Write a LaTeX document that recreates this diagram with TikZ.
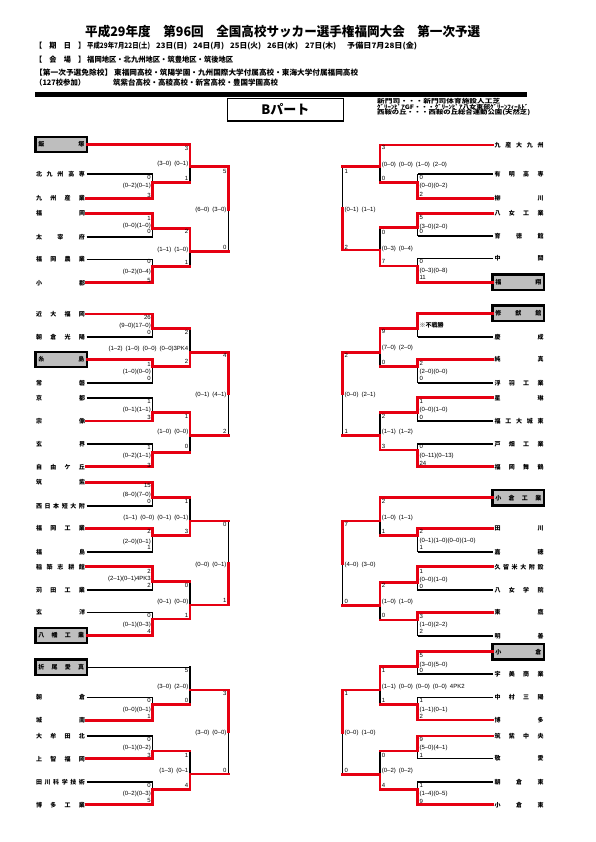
\documentclass[tikz,border=0pt]{standalone}
\usepackage{fontspec}
\usepackage{graphicx}
\setmainfont{Noto Sans CJK JP}
\newfontfamily\lat{Liberation Sans}
\definecolor{redline}{RGB}{230,0,18}
\definecolor{seedgray}{RGB}{190,190,190}
\pgfdeclarelayer{bgw}
\pgfdeclarelayer{blk}
\pgfsetlayers{bgw,blk,main}
\newcounter{lb}
\newcommand{\nt}[1]{\makebox[49pt][s]{#1}}
\newcommand{\nb}[1]{\makebox[46pt][s]{#1}}
\newcommand{\match}[7]{%
  \if t#6
    \begin{pgfonlayer}{blk}\draw[#7] (#1,#5) -- (#1,#4);\end{pgfonlayer}
    \draw[rd] (#1,#3) -- (#1,#5) -- (#2,#5);
  \else
    \begin{pgfonlayer}{blk}\draw[#7] (#1,#3) -- (#1,#5);\end{pgfonlayer}
    \draw[rd] (#1,#4) -- (#1,#5) -- (#2,#5);
  \fi}
\newcommand{\fin}[5]{%
  \if t#5
    \begin{pgfonlayer}{blk}\draw[bk] (#1,#4) -- (#1,#3);\end{pgfonlayer}
    \draw[rd] (#1,#2) -- (#1,#4);
  \else
    \begin{pgfonlayer}{blk}\draw[bk] (#1,#2) -- (#1,#4);\end{pgfonlayer}
    \draw[rd] (#1,#3) -- (#1,#4);
  \fi}
\newcommand{\bn}[3]{\begin{pgfonlayer}{blk}\draw[bkn] (#1) -- (#2,#3);\end{pgfonlayer}}
\newcommand{\rn}[3]{\draw[rd] (#1) -- (#2,#3);}
\newcommand{\labL}[3]{\stepcounter{lb}\node[scl] (lb\arabic{lb}) at (#1,#2) {#3};}
\newcommand{\labR}[3]{\stepcounter{lb}\node[scr] (lb\arabic{lb}) at (#1,#2) {#3};}
\newcommand{\fitw}[2]{\resizebox{#1}{\height}{#2}}
\tikzset{
  bk/.style={black, line width=1.1pt, line cap=rect},
  bkt/.style={black, line width=2pt, line cap=rect},
  bkn/.style={black, line width=1.6pt},
  rd/.style={redline, line width=2.8pt, line cap=rect},
  nmL/.style={inner xsep=1.5pt, inner ysep=0pt, outer sep=0pt, text height=4.6pt, text depth=0pt, font=\bfseries\fontsize{6}{6}\selectfont},
  nmB/.style={nmL, draw, fill=seedgray, line width=2.2pt, minimum width=51.5pt, minimum height=15.5pt, inner xsep=0pt},
  scl/.style={anchor=east, inner sep=0pt, text height=4.3pt, text depth=0pt, font={\lat\fontsize{6}{6}\selectfont\spaceskip=0.5em\relax}},
  scr/.style={scl, anchor=west},
  hd/.style={anchor=west, inner sep=0pt, text height=5.7pt, text depth=0pt, font=\bfseries\fontsize{7.5}{7.5}\selectfont},
  vn/.style={anchor=west, inner sep=0pt, text height=4.6pt, text depth=0pt, font=\bfseries\fontsize{6}{6}\selectfont}
}
\begin{document}
\begin{tikzpicture}[x=1pt,y=-1pt]
\begin{pgfonlayer}{bgw}\fill[white] (0,0) rectangle (595,842);\end{pgfonlayer}
\useasboundingbox (0,0) rectangle (595,842);

% ---------- header ----------
\node[anchor=west, inner sep=0pt, text height=9.8pt, text depth=0pt] (title) at (85,31.5)
  {\fitw{395pt}{\bfseries\fontsize{13}{13}\selectfont 平成29年度　第96回　全国高校サッカー選手権福岡大会　第一次予選}};
\node[hd] (h1) at (35,46) {\fitw{50pt}{【　期　日　】}};
\node[hd] (h2) at (87,46) {\fitw{63pt}{平成29年7月22日(土)}};
\node[hd] (h3) at (156,46) {\fitw{31pt}{23日(日)}};
\node[hd] (h4) at (193,46) {\fitw{31pt}{24日(月)}};
\node[hd] (h5) at (230,46) {\fitw{31pt}{25日(火)}};
\node[hd] (h6) at (267,46) {\fitw{31pt}{26日(水)}};
\node[hd] (h7) at (305,46) {\fitw{31pt}{27日(木)}};
\node[hd] (h8) at (347,46) {\fitw{70pt}{予備日7月28日(金)}};
\node[hd] (h9) at (35,60) {\fitw{50pt}{【　会　場　】}};
\node[hd] (h10) at (87,60) {\fitw{146pt}{福岡地区・北九州地区・筑豊地区・筑後地区}};
\node[hd] (h11) at (35,73) {\fitw{77pt}{【第一次予選免除校】}};
\node[hd] (h12) at (114,73) {\fitw{244pt}{東福岡高校・筑陽学園・九州国際大学付属高校・東海大学付属福岡高校}};
\node[hd] (h13) at (35,83) {\fitw{50pt}{（127校参加）}};
\node[hd] (h14) at (113,83) {\fitw{165pt}{筑紫台高校・高稜高校・新宮高校・豊国学園高校}};
\draw[line width=4.3pt] (35,94.5) -- (527,94.5);
\node[draw, line width=1.5pt, minimum width=116pt, minimum height=22.7pt, inner sep=0pt, text height=9.4pt, text depth=0pt,
  font=\bfseries\fontsize{13}{13}\selectfont] (bpart) at (285.3,109.7) {Bパート};
\node[vn] (v1) at (377,101) {\fitw{123pt}{新門司・・・新門司体育施設人工芝}};
\node[vn] (v2) at (377,106.8) {\fitw{151pt}{ｸﾞﾘｰﾝﾋﾟｱGF・・・ｸﾞﾘｰﾝﾋﾟｱ八女東部ｸﾞﾘｰﾝﾌｨｰﾙﾄﾞ}};
\node[vn] (v3) at (377,112.5) {\fitw{153pt}{西鞍の丘・・・西鞍の丘総合運動公園(天然芝)}};

% ---------- left names ----------
\node[nmB] (L1) at (61.25,144.5) {\nb{飯 塚}};
\node[nmL] (L2) at (60.5,174.3) {\nt{北 九 州 高 専}};
\node[nmL] (L3) at (60.5,198.3) {\nt{九 州 産 業}};
\node[nmL] (L4) at (60.5,213.3) {\nt{福 岡}};
\node[nmL] (L5) at (60.5,236.7) {\nt{太 宰 府}};
\node[nmL] (L6) at (60.5,259.3) {\nt{福 岡 農 業}};
\node[nmL] (L7) at (60.5,282.7) {\nt{小 郡}};
\node[nmL] (L8) at (60.5,314) {\nt{近 大 福 岡}};
\node[nmL] (L9) at (60.5,336.7) {\nt{朝 倉 光 陽}};
\node[nmB] (L10) at (61.25,359.5) {\nb{糸 島}};
\node[nmL] (L11) at (60.5,382.7) {\nt{常 磐}};
\node[nmL] (L12) at (60.5,397.7) {\nt{京 都}};
\node[nmL] (L13) at (60.5,421) {\nt{宗 像}};
\node[nmL] (L14) at (60.5,444) {\nt{玄 界}};
\node[nmL] (L15) at (60.5,466.7) {\nt{自 由 ケ 丘}};
\node[nmL] (L16) at (60.5,482.3) {\nt{筑 紫}};
\node[nmL] (L17) at (60.5,505.7) {\nt{西 日 本 短 大 附}};
\node[nmL] (L18) at (60.5,528.3) {\nt{福 岡 工 業}};
\node[nmL] (L19) at (60.5,551.7) {\nt{福 島}};
\node[nmL] (L20) at (60.5,566.7) {\nt{稲 築 志 耕 館}};
\node[nmL] (L21) at (60.5,590) {\nt{苅 田 工 業}};
\node[nmL] (L22) at (60.5,612.3) {\nt{玄 洋}};
\node[nmB] (L23) at (61.25,635.5) {\nb{八 幡 工 業}};
\node[nmB] (L24) at (61.25,667.3) {\nb{折 尾 愛 真}};
\node[nmL] (L25) at (60.5,697.3) {\nt{朝 倉}};
\node[nmL] (L26) at (60.5,720.3) {\nt{城 南}};
\node[nmL] (L27) at (60.5,736) {\nt{大 牟 田 北}};
\node[nmL] (L28) at (60.5,758.7) {\nt{上 智 福 岡}};
\node[nmL] (L29) at (60.5,781.7) {\nt{田 川 科 学 技 術}};
\node[nmL] (L30) at (60.5,804.7) {\nt{博 多 工 業}};

% ---------- right names ----------
\node[nmL] (R1n) at (519,145) {\nt{九 産 大 九 州}};
\node[nmL] (R2n) at (519,174.3) {\nt{有 明 高 専}};
\node[nmL] (R3n) at (519,198.3) {\nt{柳 川}};
\node[nmL] (R4n) at (519,213.3) {\nt{八 女 工 業}};
\node[nmL] (R5n) at (519,235.7) {\nt{育 徳 館}};
\node[nmL] (R6n) at (519,258.3) {\nt{中 間}};
\node[nmB] (R7n) at (518.25,282.3) {\nb{福 翔}};
\node[nmB] (R8n) at (518.25,313.3) {\nb{修 猷 館}};
\node[nmL] (R9n) at (519,336.7) {\nt{慶 成}};
\node[nmL] (R10n) at (519,359.3) {\nt{純 真}};
\node[nmL] (R11n) at (519,382.7) {\nt{浮 羽 工 業}};
\node[nmL] (R12n) at (519,397.7) {\nt{星 琳}};
\node[nmL] (R13n) at (519,421) {\nt{福 工 大 城 東}};
\node[nmL] (R14n) at (519,444) {\nt{戸 畑 工 業}};
\node[nmL] (R15n) at (519,466.7) {\nt{福 岡 舞 鶴}};
\node[nmB] (R16n) at (518.25,497.7) {\nb{小 倉 工 業}};
\node[nmL] (R17n) at (519,528.3) {\nt{田 川}};
\node[nmL] (R18n) at (519,551.7) {\nt{嘉 穂}};
\node[nmL] (R19n) at (519,566.7) {\nt{久 留 米 大 附 設}};
\node[nmL] (R20n) at (519,590) {\nt{八 女 学 院}};
\node[nmL] (R21n) at (519,612.3) {\nt{東 鷹}};
\node[nmL] (R22n) at (519,635.7) {\nt{明 善}};
\node[nmB] (R23n) at (518.25,651.7) {\nb{小 倉}};
\node[nmL] (R24n) at (519,674) {\nt{宇 美 商 業}};
\node[nmL] (R25n) at (519,697.3) {\nt{中 村 三 陽}};
\node[nmL] (R26n) at (519,720) {\nt{博 多}};
\node[nmL] (R27n) at (519,736) {\nt{筑 紫 中 央}};
\node[nmL] (R28n) at (519,758.3) {\nt{敬 愛}};
\node[nmL] (R29n) at (519,781.7) {\nt{朝 倉 東}};
\node[nmL] (R30n) at (519,804.7) {\nt{小 倉 東}};

% ---------- left brackets ----------
\rn{L1.east}{190}{144.5}
\bn{L2.east}{152.5}{174.3} \rn{L3.east}{152.5}{198.3}
\rn{L4.east}{152.5}{213.3} \bn{L5.east}{152.5}{236.7}
\bn{L6.east}{152.5}{259.3} \rn{L7.east}{152.5}{282.7}
\match{152.5}{190}{174.3}{198.3}{182.7}{b}{bk}
\match{152.5}{190}{213.3}{236.7}{228.3}{t}{bk}
\match{152.5}{190}{259.3}{282.7}{266.7}{b}{bk}
\match{190}{228.3}{144.5}{182.7}{166.7}{t}{bkt}
\match{190}{228.3}{228.3}{266.7}{251.7}{t}{bkt}
\fin{228.3}{166.7}{251.7}{209.2}{t}

\rn{L8.east}{152.5}{314} \bn{L9.east}{152.5}{336.7}
\rn{L10.east}{152.5}{359.5} \bn{L11.east}{152.5}{382.7}
\bn{L12.east}{152.5}{397.7} \rn{L13.east}{152.5}{421}
\bn{L14.east}{152.5}{444} \rn{L15.east}{152.5}{466.7}
\match{152.5}{190}{314}{336.7}{328.3}{t}{bk}
\match{152.5}{190}{359.5}{382.7}{366.7}{t}{bk}
\match{152.5}{190}{397.7}{421}{412.3}{b}{bk}
\match{152.5}{190}{444}{466.7}{452.3}{b}{bk}
\match{190}{228.3}{328.3}{366.7}{352.3}{b}{bkt}
\match{190}{228.3}{412.3}{452.3}{435.7}{t}{bkt}
\fin{228.3}{352.3}{435.7}{394}{t}

\rn{L16.east}{152.5}{482.3} \bn{L17.east}{152.5}{505.7}
\rn{L18.east}{152.5}{528.3} \bn{L19.east}{152.5}{551.7}
\rn{L20.east}{152.5}{566.7} \bn{L21.east}{152.5}{590}
\bn{L22.east}{152.5}{612.3} \rn{L23.east}{152.5}{635.5}
\match{152.5}{190}{482.3}{505.7}{497.7}{t}{bk}
\match{152.5}{190}{528.3}{551.7}{535.7}{t}{bk}
\match{152.5}{190}{566.7}{590}{581.7}{t}{bk}
\match{152.5}{190}{612.3}{635.5}{619}{b}{bk}
\match{190}{228.3}{497.7}{535.7}{521}{b}{bkt}
\match{190}{228.3}{581.7}{619}{605}{b}{bkt}
\fin{228.3}{521}{605}{563}{b}

\bn{L24.east}{190}{667.3}
\bn{L25.east}{152.5}{697.3} \rn{L26.east}{152.5}{720.3}
\bn{L27.east}{152.5}{736} \rn{L28.east}{152.5}{758.7}
\bn{L29.east}{152.5}{781.7} \rn{L30.east}{152.5}{804.7}
\match{152.5}{190}{697.3}{720.3}{704.3}{b}{bk}
\match{152.5}{190}{736}{758.7}{751}{b}{bk}
\match{152.5}{190}{781.7}{804.7}{789.3}{b}{bk}
\begin{pgfonlayer}{blk}\draw[bkt] (190,667.3) -- (190,704.3);\end{pgfonlayer}
\draw[rd] (190,690) -- (228.3,690);
\match{190}{228.3}{751}{789.3}{774}{b}{bkt}
\fin{228.3}{690}{774}{732}{t}

% ---------- right brackets ----------
\rn{R1n.west}{380}{145}
\bn{R2n.west}{417.7}{174.3} \rn{R3n.west}{417.7}{198.3}
\rn{R4n.west}{417.7}{213.3} \bn{R5n.west}{417.7}{235.7}
\bn{R6n.west}{417.7}{258.3} \rn{R7n.west}{417.7}{282.3}
\match{417.7}{380}{174.3}{198.3}{182.7}{b}{bk}
\match{417.7}{380}{213.3}{235.7}{227.7}{t}{bk}
\match{417.7}{380}{258.3}{282.3}{266}{b}{bk}
\match{380}{342.7}{145}{182.7}{166.7}{t}{bkt}
\match{380}{342.7}{227.7}{266}{250}{b}{bkt}
\fin{342.7}{166.7}{250}{208.4}{b}

\rn{R8n.west}{417.7}{313.3} \bn{R9n.west}{417.7}{336.7}
\rn{R10n.west}{417.7}{359.3} \bn{R11n.west}{417.7}{382.7}
\rn{R12n.west}{417.7}{397.7} \bn{R13n.west}{417.7}{421}
\bn{R14n.west}{417.7}{444} \rn{R15n.west}{417.7}{466.7}
\match{417.7}{380}{313.3}{336.7}{328.3}{t}{bk}
\match{417.7}{380}{359.3}{382.7}{366.7}{t}{bk}
\match{417.7}{380}{397.7}{421}{412.3}{t}{bk}
\match{417.7}{380}{444}{466.7}{450}{b}{bk}
\match{380}{342.7}{328.3}{366.7}{352.3}{t}{bkt}
\match{380}{342.7}{412.3}{450}{435.7}{b}{bkt}
\fin{342.7}{352.3}{435.7}{394}{t}

\rn{R16n.west}{380}{497.7}
\rn{R17n.west}{417.7}{528.3} \bn{R18n.west}{417.7}{551.7}
\rn{R19n.west}{417.7}{566.7} \bn{R20n.west}{417.7}{590}
\rn{R21n.west}{417.7}{612.3} \bn{R22n.west}{417.7}{635.7}
\match{417.7}{380}{528.3}{551.7}{535.7}{t}{bk}
\match{417.7}{380}{566.7}{590}{582.3}{t}{bk}
\match{417.7}{380}{612.3}{635.7}{620}{t}{bk}
\match{380}{342.7}{497.7}{535.7}{521}{t}{bkt}
\match{380}{342.7}{582.3}{620}{605.7}{t}{bkt}
\fin{342.7}{521}{605.7}{563.4}{t}

\rn{R23n.west}{417.7}{651.7} \bn{R24n.west}{417.7}{674}
\bn{R25n.west}{417.7}{697.3} \rn{R26n.west}{417.7}{720}
\rn{R27n.west}{417.7}{736} \bn{R28n.west}{417.7}{758.3}
\bn{R29n.west}{417.7}{781.7} \rn{R30n.west}{417.7}{804.7}
\match{417.7}{380}{651.7}{674}{666.7}{t}{bk}
\match{417.7}{380}{697.3}{720}{704.3}{b}{bk}
\match{417.7}{380}{736}{758.3}{751}{t}{bk}
\match{417.7}{380}{781.7}{804.7}{789.3}{b}{bk}
\match{380}{342.7}{666.7}{704.3}{690}{t}{bkt}
\match{380}{342.7}{751}{789.3}{774.3}{b}{bkt}
\fin{342.7}{690}{774.3}{732.2}{t}

% ---------- left scores ----------
\labL{151}{177.7}{0} \labL{151}{185.7}{(0–2)(0–1)} \labL{151}{195}{3}
\labL{151}{218.3}{1} \labL{151}{225}{(0–0)(1–0)} \labL{151}{231.7}{0}
\labL{151}{261.7}{0} \labL{151}{271}{(0–2)(0–4)} \labL{151}{280}{5}
\labL{188.5}{148.3}{3} \labL{188.5}{163.3}{(3–0) (0–1)} \labL{188.5}{178.3}{1}
\labL{188.5}{231.7}{2} \labL{188.5}{249}{(1–1) (1–0)} \labL{188.5}{262.7}{1}
\labL{226.7}{171}{5} \labL{226.7}{209.3}{(6–0) (3–0)} \labL{226.7}{247.7}{0}

\labL{151}{317.3}{26} \labL{151}{325.7}{(9–0)(17–0)} \labL{151}{332.7}{0}
\labL{151}{364.3}{1} \labL{151}{371.7}{(1–0)(0–0)} \labL{151}{378.3}{0}
\labL{151}{401.7}{1} \labL{151}{409.3}{(0–1)(1–1)} \labL{151}{417.3}{3}
\labL{151}{447.3}{1} \labL{151}{455.7}{(0–2)(1–1)} \labL{151}{465}{3}
\labL{188.5}{332.3}{2} \labL{188.5}{348.3}{(1–2) (1–0) (0–0) (0–0)3PK4} \labL{188.5}{361.7}{2}
\labL{188.5}{416.7}{1} \labL{188.5}{431.7}{(1–0) (0–0)} \labL{188.5}{446.7}{0}
\labL{226.7}{355}{4} \labL{226.7}{394.3}{(0–1) (4–1)} \labL{226.7}{431.7}{2}

\labL{151}{485.7}{15} \labL{151}{494.3}{(8–0)(7–0)} \labL{151}{501.7}{0}
\labL{151}{531.7}{2} \labL{151}{541}{(2–0)(0–1)} \labL{151}{547.7}{1}
\labL{151}{571}{2} \labL{151}{578.3}{(2–1)(0–1)4PK3} \labL{151}{585.7}{2}
\labL{151}{615.7}{0} \labL{151}{624.3}{(0–1)(0–3)} \labL{151}{631.7}{4}
\labL{188.5}{501}{1} \labL{188.5}{517.7}{(1–1) (0–0) (0–1) (0–1)} \labL{188.5}{531.7}{3}
\labL{188.5}{585.7}{0} \labL{188.5}{601.7}{(0–1) (0–0)} \labL{188.5}{615.7}{1}
\labL{226.7}{524.3}{0} \labL{226.7}{564}{(0–0) (0–1)} \labL{226.7}{600}{1}

\labL{151}{700.7}{0} \labL{151}{709.3}{(0–0)(0–1)} \labL{151}{716.7}{1}
\labL{151}{739.3}{0} \labL{151}{747.3}{(0–1)(0–2)} \labL{151}{755}{3}
\labL{151}{785}{0} \labL{151}{793.3}{(0–2)(0–3)} \labL{151}{800.7}{5}
\labL{188.5}{670}{5} \labL{188.5}{686.7}{(3–0) (2–0)} \labL{188.5}{700.7}{0}
\labL{188.5}{755}{1} \labL{188.5}{770.7}{(1–3) (0–1} \labL{188.5}{785}{4}
\labL{226.7}{693.3}{3} \labL{226.7}{732.7}{(3–0) (0–0)} \labL{226.7}{770}{0}

% ---------- right scores ----------
\labR{419.3}{177.7}{0} \labR{419.3}{185.7}{(0–0)(0–2)} \labR{419.3}{194}{2}
\labR{419.3}{217.3}{5} \labR{419.3}{226}{(3–0)(2–0)} \labR{419.3}{231.7}{0}
\labR{419.3}{261.7}{0} \labR{419.3}{270.7}{(0–3)(0–8)} \labR{419.3}{277.7}{11}
\labR{381.7}{147.7}{3} \labR{381.7}{164}{(0–0) (0–0) (1–0) (2–0)} \labR{381.7}{178.3}{0}
\labR{381.7}{232.3}{0} \labR{381.7}{248.3}{(0–3) (0–4)} \labR{381.7}{261.7}{7}
\labR{344.3}{171.7}{1} \labR{344.3}{209.3}{(0–1) (1–1)} \labR{344.3}{247.7}{2}

\stepcounter{lb}\node[scr, font=\bfseries\fontsize{6}{6}\selectfont] (lb\arabic{lb}) at (419.3,325.7) {※不戦勝};
\labR{419.3}{363.3}{2} \labR{419.3}{371.7}{(2–0)(0–0)} \labR{419.3}{378.3}{0}
\labR{419.3}{401.7}{1} \labR{419.3}{409.3}{(0–0)(1–0)} \labR{419.3}{417.3}{0}
\labR{419.3}{446.7}{0} \labR{419.3}{455}{(0–11)(0–13)} \labR{419.3}{463.3}{24}
\labR{381.7}{331.7}{9} \labR{381.7}{347.7}{(7–0) (2–0)} \labR{381.7}{362.7}{0}
\labR{381.7}{416.7}{2} \labR{381.7}{431.7}{(1–1) (1–2)} \labR{381.7}{446.7}{3}
\labR{344.3}{355}{2} \labR{344.3}{394.3}{(0–0) (2–1)} \labR{344.3}{431}{1}

\labR{419.3}{531.7}{2} \labR{419.3}{540.3}{(0–1)(1–0)(0–0)(1–0)} \labR{419.3}{547.7}{1}
\labR{419.3}{571}{1} \labR{419.3}{579}{(0–0)(1–0)} \labR{419.3}{586.7}{0}
\labR{419.3}{616}{3} \labR{419.3}{624.3}{(1–0)(2–2)} \labR{419.3}{631.7}{2}
\labR{381.7}{501}{2} \labR{381.7}{517.7}{(1–0) (1–1)} \labR{381.7}{531.7}{1}
\labR{381.7}{585.7}{2} \labR{381.7}{601.7}{(1–0) (1–0)} \labR{381.7}{615.7}{0}
\labR{344.3}{524.3}{7} \labR{344.3}{564}{(4–0) (3–0)} \labR{344.3}{601}{0}

\labR{419.3}{655}{5} \labR{419.3}{664}{(3–0)(5–0)} \labR{419.3}{670.7}{0}
\labR{419.3}{700.7}{1} \labR{419.3}{709.3}{(1–1)(0–1)} \labR{419.3}{716.7}{2}
\labR{419.3}{739.3}{9} \labR{419.3}{747.3}{(5–0)(4–1)} \labR{419.3}{755}{1}
\labR{419.3}{785}{1} \labR{419.3}{793.3}{(1–4)(0–5)} \labR{419.3}{801.7}{9}
\labR{381.7}{670}{1} \labR{381.7}{686.7}{(1–1) (0–0) (0–0) (0–0) 4PK2} \labR{381.7}{700.7}{1}
\labR{381.7}{755}{0} \labR{381.7}{770.7}{(0–2) (0–2)} \labR{381.7}{785}{4}
\labR{344.3}{693.3}{1} \labR{344.3}{732.7}{(0–0) (1–0)} \labR{344.3}{770}{0}
\end{tikzpicture}
\end{document}
